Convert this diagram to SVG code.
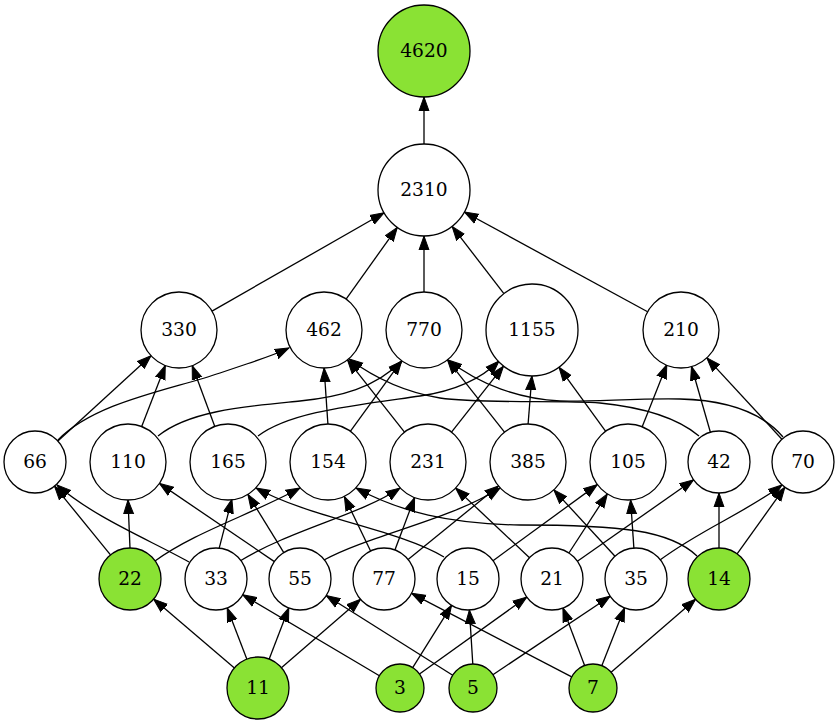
<svg xmlns="http://www.w3.org/2000/svg" width="839" height="724" viewBox="0 0 839 724">
<style>
.n circle{fill:#ffffff;stroke:#000;stroke-width:1.3}
.g circle{fill:#8ae234}
.n text{font-family:"DejaVu Serif","Liberation Serif",serif;font-size:18.67px;text-anchor:middle;fill:#000}
#edges path{fill:none;stroke:#000;stroke-width:1.3;marker-end:url(#ah)}
</style>
<defs>
<marker id="ah" markerUnits="userSpaceOnUse" markerWidth="16" markerHeight="12" viewBox="0 -6 16 12" refX="14" refY="0" orient="auto">
<path d="M0,-5L14,0L0,5z" fill="#000" stroke="#000" stroke-width="1"/>
</marker>
</defs>
<rect width="839" height="724" fill="#fff"/>
<g id="edges">
<path d="M424,144L424,97"/>
<path d="M212,311.1L384.1,212.8"/>
<path d="M346.1,299.1L397.3,227.4"/>
<path d="M424,292L424,236"/>
<path d="M503.9,293.6L452.1,226.4"/>
<path d="M647.6,311.8L464.4,212"/>
<path d="M57.9,441L151,355.7"/>
<path d="M58,440C95,402 170,390 220,373S272,356 289,348"/>
<path d="M141.7,426.5L165.3,365.5"/>
<path d="M158,436C190,410 250,406 300,401C340,397 375,388 402,361"/>
<path d="M214.8,426.4L192.2,365.6"/>
<path d="M258,436C290,412 350,406 420,396C455,391 480,380 499,361"/>
<path d="M327.9,424L324.1,368"/>
<path d="M350.3,431.3L401.7,360.7"/>
<path d="M404.5,432.1L347.5,359.9"/>
<path d="M451.5,432.1L503.5,366.2"/>
<path d="M504.5,432.1L447.5,359.9"/>
<path d="M528.1,424L531.9,376"/>
<path d="M605.7,431.3L559,367.2"/>
<path d="M642.2,426.7L666.8,364.7"/>
<path d="M699,436C680,420 650,408 600,403C560,400 480,404 440,398C410,393 380,382 349,359"/>
<path d="M710.4,432.2L691.5,366.5"/>
<path d="M783,437C760,410 720,400 680,399C640,398 590,402 560,401C520,399 480,385 448,360"/>
<path d="M781.9,439.2L706.8,357.9"/>
<path d="M110.5,554.9L54.5,486.1"/>
<path d="M130,548L128,500"/>
<path d="M155,561C195,532 250,515 300,488"/>
<path d="M189,562C150,540 95,518 57,485"/>
<path d="M219.2,548.2L231.9,499.2"/>
<path d="M240,561C290,530 360,515 400,488"/>
<path d="M274.4,561.6L159.4,483.4"/>
<path d="M283.8,552.6L247.9,494.4"/>
<path d="M324,560C370,535 450,520 500,488"/>
<path d="M370.6,551L344.4,496.7"/>
<path d="M394.9,550L414.6,497.6"/>
<path d="M408.1,559.4L498.5,486"/>
<path d="M444,557C400,530 310,518 256,488"/>
<path d="M493,560.7L597.3,484.6"/>
<path d="M529.5,557.7L455.6,488.1"/>
<path d="M568.9,553L607.3,493.9"/>
<path d="M577.4,561.2L693.6,479.8"/>
<path d="M615,556.2L553.8,489.9"/>
<path d="M633.9,548.1L630.6,500.1"/>
<path d="M660,560C700,530 750,510 782,485"/>
<path d="M697,556C670,530 620,525 520,525C450,524 400,512 356,488"/>
<path d="M719,548L719,493"/>
<path d="M737.1,553.8L784.9,487.2"/>
<path d="M234.4,667.9L153.6,599.1"/>
<path d="M246.8,659.1L227.2,607.9"/>
<path d="M269.2,659.1L288.8,607.9"/>
<path d="M281.4,667.7L360.6,599.3"/>
<path d="M379.4,675.8L242.7,594.8"/>
<path d="M412.7,667.6L451.6,605.3"/>
<path d="M419.5,674L526.8,597.1"/>
<path d="M452.7,675.2L326.2,595.5"/>
<path d="M472.8,664L469.4,610"/>
<path d="M492.9,674.7L610.2,596.2"/>
<path d="M571.7,676.9L411.5,593.3"/>
<path d="M584.6,665.5L562.9,608"/>
<path d="M601.8,665.7L624.6,607.8"/>
<path d="M611.1,672.3L695.6,599.3"/>
</g>
<g id="n4620" class="n g"><circle cx="424" cy="51" r="46"/><text x="424" y="56.5">4620</text></g>
<g id="n2310" class="n"><circle cx="424" cy="190" r="46"/><text x="424" y="195.5">2310</text></g>
<g id="n330" class="n"><circle cx="179" cy="330" r="38"/><text x="179" y="335.5">330</text></g>
<g id="n462" class="n"><circle cx="324" cy="330" r="38"/><text x="324" y="335.5">462</text></g>
<g id="n770" class="n"><circle cx="424" cy="330" r="38"/><text x="424" y="335.5">770</text></g>
<g id="n1155" class="n"><circle cx="532" cy="330" r="46"/><text x="532" y="335.5">1155</text></g>
<g id="n210" class="n"><circle cx="681" cy="330" r="38"/><text x="681" y="335.5">210</text></g>
<g id="n66" class="n"><circle cx="35" cy="462" r="31"/><text x="35" y="467.5">66</text></g>
<g id="n110" class="n"><circle cx="128" cy="462" r="38"/><text x="128" y="467.5">110</text></g>
<g id="n165" class="n"><circle cx="228" cy="462" r="38"/><text x="228" y="467.5">165</text></g>
<g id="n154" class="n"><circle cx="328" cy="462" r="38"/><text x="328" y="467.5">154</text></g>
<g id="n231" class="n"><circle cx="428" cy="462" r="38"/><text x="428" y="467.5">231</text></g>
<g id="n385" class="n"><circle cx="528" cy="462" r="38"/><text x="528" y="467.5">385</text></g>
<g id="n105" class="n"><circle cx="628" cy="462" r="38"/><text x="628" y="467.5">105</text></g>
<g id="n42" class="n"><circle cx="719" cy="462" r="31"/><text x="719" y="467.5">42</text></g>
<g id="n70" class="n"><circle cx="803" cy="462" r="31"/><text x="803" y="467.5">70</text></g>
<g id="n22" class="n g"><circle cx="130" cy="579" r="31"/><text x="130" y="584.5">22</text></g>
<g id="n33" class="n"><circle cx="216" cy="579" r="31"/><text x="216" y="584.5">33</text></g>
<g id="n55" class="n"><circle cx="300" cy="579" r="31"/><text x="300" y="584.5">55</text></g>
<g id="n77" class="n"><circle cx="384" cy="579" r="31"/><text x="384" y="584.5">77</text></g>
<g id="n15" class="n"><circle cx="468" cy="579" r="31"/><text x="468" y="584.5">15</text></g>
<g id="n21" class="n"><circle cx="552" cy="579" r="31"/><text x="552" y="584.5">21</text></g>
<g id="n35" class="n"><circle cx="636" cy="579" r="31"/><text x="636" y="584.5">35</text></g>
<g id="n14" class="n g"><circle cx="719" cy="579" r="31"/><text x="719" y="584.5">14</text></g>
<g id="n11" class="n g"><circle cx="258" cy="688" r="31"/><text x="258" y="693.5">11</text></g>
<g id="n3" class="n g"><circle cx="400" cy="688" r="24"/><text x="400" y="693.5">3</text></g>
<g id="n5" class="n g"><circle cx="473" cy="688" r="24"/><text x="473" y="693.5">5</text></g>
<g id="n7" class="n g"><circle cx="593" cy="688" r="24"/><text x="593" y="693.5">7</text></g>
</svg>
